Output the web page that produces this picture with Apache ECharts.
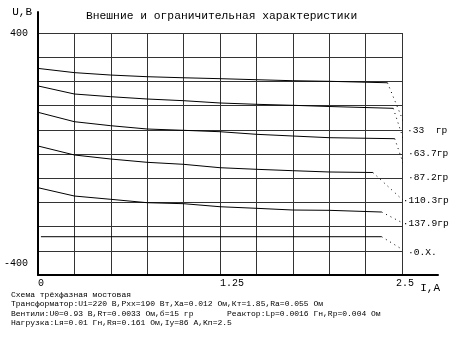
<!DOCTYPE html>
<html>
<head>
<meta charset="utf-8">
<script src="https://cdn.jsdelivr.net/npm/echarts@6/dist/echarts.min.js"></script>
<style>html,body{margin:0;padding:0;background:#fff}#c{width:467px;height:346px}</style>
</head>
<body>
<div id="c"></div>
<script>
// ---- data ----
const titleText = 'Внешние и ограничительная характеристики';
const yName = 'U,B';
const xName = 'I,A';
const xTickLabels = [0, 1.25, 2.5];
const yTickLabels = [400, -400];
const curveI = [0, 0.25, 0.5, 0.75, 1.0, 1.25, 1.5, 1.75, 2.0];
const u33 = [283, 269, 261, 255.5, 252, 249, 245.6, 242.3, 240.3];
const u63 = [225, 198.3, 189.4, 181.8, 176.2, 168.6, 164.3, 161, 157];
const u87 = [137.8, 106.8, 93.5, 82.6, 78.3, 73.7, 65.1, 59.5, 53.9];
const u110 = [26.4, -3.3, -16.6, -27.5, -34.1, -45.3, -50.6, -55.2, -59.5];
const u137 = [-111.4, -138.9, -149.8, -161, -164.3, -174.3, -179.5, -185.2, -186.2];
const oxI = [0.02, 2.36];
const oxU = [-273.4, -273.4];
const endI = [2.40, 2.44, 2.45, 2.30, 2.36, 2.36];
const endU = [235.5, 151, 50.6, -61.2, -191.8, -273.4];
const dropI = [2.534, 2.541, 2.541, 2.505, 2.505, 2.541];
const dropU = [79, 3, -76, -152, -228, -327];
const curveLabels = ['33  гр', '63.7гр', '87.2гр', '110.3гр', '137.9гр', '0.X.'];
const footLines = [
  'Схема трёхфазная мостовая',
  'Трансформатор:U1=220 В,Pxx=190 Вт,Xa=0.012 Ом,Кт=1.85,Ra=0.055 Ом',
  'Вентили:U0=0.93 В,Rт=0.0033 Ом,б=15 гр       Реактор:Lp=0.0016 Гн,Rp=0.004 Ом',
  'Нагрузка:Lя=0.01 Гн,Rя=0.161 Ом,Iу=86 А,Kп=2.5'
];

// ---- build ----
const MONO = '"Liberation Mono","DejaVu Sans Mono",monospace';
const curves = [u33, u63, u87, u110, u137];
const series = [];
curves.forEach((u, k) => {
  const pts = curveI.map((x, i) => [x, u[i]]);
  pts.push([endI[k], endU[k]]);
  series.push({type: 'line', xAxisIndex: 0, yAxisIndex: 0, data: pts, symbol: 'none',
    lineStyle: {color: '#000', width: 1}, silent: true});
});
series.push({type: 'line', xAxisIndex: 0, yAxisIndex: 0,
  data: oxI.map((x, i) => [x, oxU[i]]), symbol: 'none',
  lineStyle: {color: '#000', width: 1}, silent: true});
curveLabels.forEach((lab, k) => {
  series.push({type: 'line', xAxisIndex: 0, yAxisIndex: 0, clip: false,
    data: [
      {value: [endI[k], endU[k]]},
      {value: [dropI[k], dropU[k]],
       label: {show: true, position: 'right', distance: 0, formatter: '·' + lab, color: '#000',
         fontFamily: MONO, fontSize: 9.6}}
    ],
    symbol: 'circle', symbolSize: 0, showSymbol: true,
    lineStyle: {color: '#000', width: 1, type: [1, 4]}, silent: true});
});

const chart = echarts.init(document.getElementById('c'), null, {renderer: 'canvas'});
chart.setOption({
  animation: false,
  backgroundColor: '#fff',
  title: [
    {text: titleText, left: 81, top: 6,
     textStyle: {fontFamily: MONO, fontSize: 11.3, fontWeight: 'normal', color: '#000'}},
    {text: footLines.join('\n'), left: 6, top: 285,
     textStyle: {fontFamily: MONO, fontSize: 8, fontWeight: 'normal', color: '#000', lineHeight: 9.5}}
  ],
  grid: [
    {left: 38, top: 33, right: 65, bottom: 71},
    {left: 38, top: 12, right: 29, bottom: 71}
  ],
  xAxis: [
    {gridIndex: 0, type: 'value', min: 0, max: 2.5, interval: 0.25,
     axisLine: {show: false}, axisTick: {show: false},
     splitLine: {show: true, lineStyle: {color: '#333', width: 1}},
     axisLabel: {show: true, margin: 3, color: '#000', fontFamily: MONO, fontSize: 10,
       formatter: v => {
         if (Math.abs(v - xTickLabels[0]) < 1e-9) return '{a|' + xTickLabels[0] + '}';
         if (Math.abs(v - xTickLabels[1]) < 1e-9) return '{b|' + xTickLabels[1] + '}';
         if (Math.abs(v - xTickLabels[2]) < 1e-9) return '{a|' + xTickLabels[2] + '}';
         return '';
       },
       rich: {a: {fontFamily: MONO, fontSize: 10, color: '#000', padding: [0, 0, 0, 6]},
              b: {fontFamily: MONO, fontSize: 10, color: '#000', padding: [0, 0, 0, 24]}}}},
    {gridIndex: 1, type: 'value', min: 0, max: 1,
     axisLine: {show: true, onZero: false, lineStyle: {color: '#000', width: 2}},
     axisTick: {show: false}, axisLabel: {show: false}, splitLine: {show: false},
     name: xName, nameLocation: 'end', nameGap: 2,
     nameTextStyle: {fontFamily: MONO, fontSize: 11, color: '#000', align: 'right',
       verticalAlign: 'top', padding: [8, 0, 0, 0]}}
  ],
  yAxis: [
    {gridIndex: 0, type: 'value', min: -400, max: 400, interval: 80,
     axisLine: {show: false}, axisTick: {show: false},
     splitLine: {show: true, lineStyle: {color: '#333', width: 1}},
     axisLabel: {show: true, margin: 10, color: '#000', fontFamily: MONO, fontSize: 10,
       formatter: v => {
         if (v === yTickLabels[0]) return '{t|' + v + '}';
         if (v === yTickLabels[1]) return '{m|' + v + '}';
         return '';
       },
       rich: {t: {fontFamily: MONO, fontSize: 10, color: '#000'},
              m: {fontFamily: MONO, fontSize: 10, color: '#000', padding: [0, 0, 24, 0]}}}},
    {gridIndex: 1, type: 'value', min: 0, max: 1,
     axisLine: {show: true, onZero: false, lineStyle: {color: '#000', width: 2}},
     axisTick: {show: false}, axisLabel: {show: false}, splitLine: {show: false},
     name: yName, nameLocation: 'end', nameGap: 0,
     nameTextStyle: {fontFamily: MONO, fontSize: 11, color: '#000', align: 'right',
       verticalAlign: 'middle', padding: [0, 6, 0, 0]}}
  ],
  series: series
});
</script>
</body>
</html>
